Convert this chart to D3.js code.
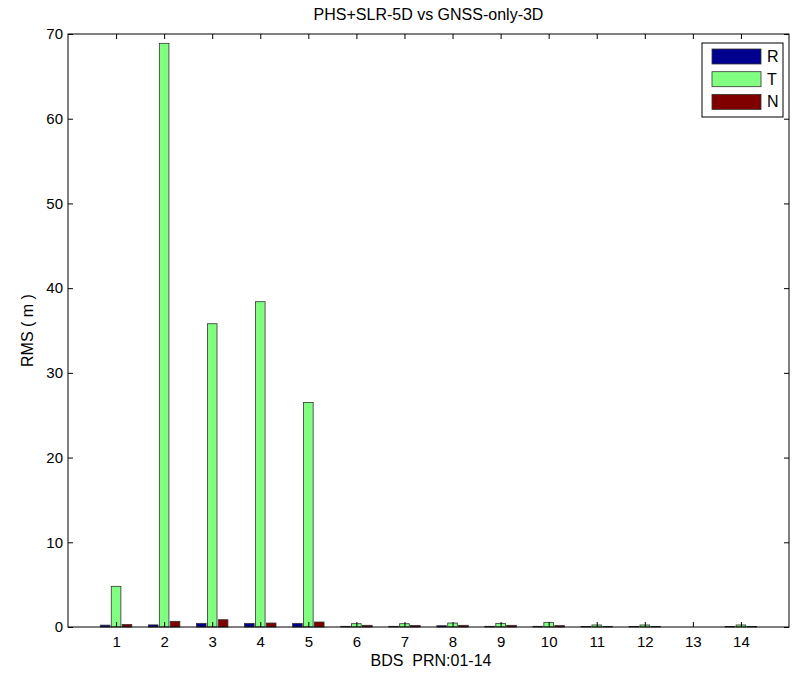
<!DOCTYPE html>
<html><head><meta charset="utf-8">
<script src="https://cdn.jsdelivr.net/npm/d3@7"></script>
<style>body{margin:0;background:#fff}svg{display:block}text{font-family:"Liberation Sans",Arial,sans-serif;}</style>
</head><body><svg id="c" width="792" height="673"></svg>
<script>
const categories = ["1","2","3","4","5","6","7","8","9","10","11","12","13","14"];
const seriesNames = ["R","T","N"];
const seriesR = [0.22,0.25,0.43,0.43,0.43,0.08,0.08,0.15,0.08,0.08,0.06,0.06,0,0.06];
const seriesT = [4.8,68.9,35.8,38.4,26.5,0.39,0.39,0.47,0.43,0.55,0.24,0.24,0,0.24];
const seriesN = [0.3,0.67,0.86,0.47,0.59,0.2,0.18,0.2,0.2,0.16,0.06,0.06,0,0.06];
const yTicks = [0,10,20,30,40,50,60,70];
const colors = ["#00008f","#80ff80","#800000"];

const svg = d3.select("#c");
const L=68, R=789, T=34, B=627;
const x = d3.scaleLinear().domain([0,15]).range([L,R]);
const y = d3.scaleLinear().domain([0,70]).range([B,T]);
const series=[seriesR,seriesT,seriesN];
const offsets=[-0.227,0,0.227], bw=0.2;

const g=svg.append("g");
series.forEach((s,si)=>{
  g.selectAll(null).data(s).enter().append("rect")
   .attr("x",(d,i)=>x(i+1+offsets[si]-bw/2))
   .attr("width",x(bw)-x(0))
   .attr("y",d=>y(d))
   .attr("height",d=>y(0)-y(d))
   .attr("fill",colors[si])
   .attr("stroke",d=>d>0?"#333":"none").attr("stroke-width",0.8);
});

svg.append("rect").attr("x",L).attr("y",T).attr("width",R-L).attr("height",B-T).attr("fill","none").attr("stroke","#000").attr("stroke-width",1);
const xb=d3.axisBottom(x).tickValues(d3.range(1,15)).tickFormat((d,i)=>categories[i]).tickSize(-5).tickPadding(9);
const xt=d3.axisTop(x).tickValues(d3.range(1,15)).tickFormat("").tickSize(-5);
const yl=d3.axisLeft(y).tickValues(yTicks).tickSize(-5).tickPadding(5);
const yr=d3.axisRight(y).tickValues(yTicks).tickFormat("").tickSize(-5);
[[xb,`translate(0,${B})`],[xt,`translate(0,${T})`],[yl,`translate(${L},0)`],[yr,`translate(${R},0)`]].forEach(([a,t])=>{
  const ag=svg.append("g").attr("transform",t).call(a);
  ag.select(".domain").remove();
  ag.selectAll("line").attr("stroke","#000");
  ag.selectAll("text").attr("font-size",15).attr("fill","#000").style("font-family","Liberation Sans, Arial, sans-serif");
});

svg.append("text").attr("x",(L+R)/2).attr("y",20).attr("text-anchor","middle").attr("font-size",16).text("PHS+SLR-5D vs GNSS-only-3D");
svg.append("text").attr("x",431).attr("y",666).attr("text-anchor","middle").attr("font-size",16).attr("xml:space","preserve").text("BDS  PRN:01-14");
svg.append("text").attr("transform",`translate(33,${(T+B)/2}) rotate(-90)`).attr("text-anchor","middle").attr("font-size",16).attr("xml:space","preserve").text("RMS ( m )");

const lg=svg.append("g");
lg.append("rect").attr("x",702).attr("y",43).attr("width",81).attr("height",74).attr("fill","#fff").attr("stroke","#000");
seriesNames.forEach((n,i)=>{
  lg.append("rect").attr("x",712).attr("y",49+i*22.7).attr("width",49).attr("height",15).attr("fill",colors[i]).attr("stroke","#333").attr("stroke-width",0.8);
  lg.append("text").attr("x",767).attr("y",62+i*22.7).attr("font-size",16).text(n);
});
</script></body></html>
